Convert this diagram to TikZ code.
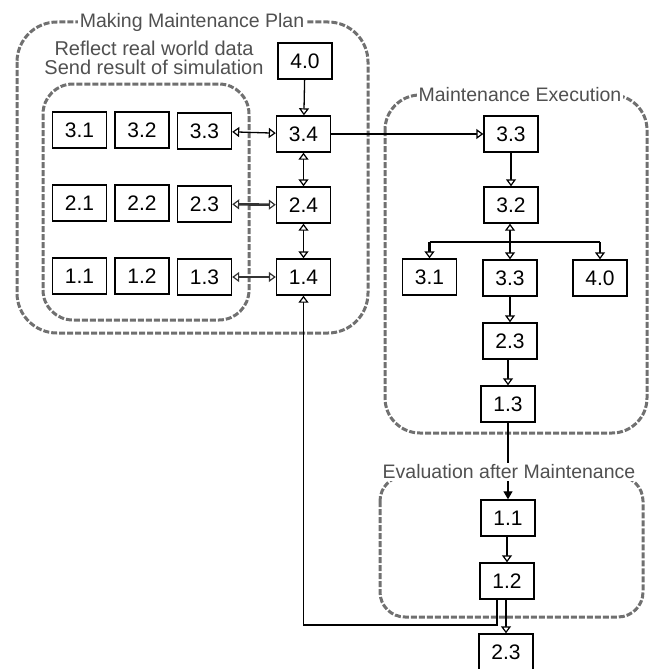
\documentclass[tikz,border=0pt]{standalone}
\usepackage{fontspec}
\setmainfont{Liberation Sans}
\usetikzlibrary{arrows.meta}
\definecolor{grp}{HTML}{707070}
\definecolor{grtxt}{HTML}{505050}
\tikzset{
  box/.style={draw, line width=1.4pt, minimum width=54pt, minimum height=36pt, inner sep=0pt, fill=white,
    font=\fontsize{21}{21}\selectfont},
  grpbox/.style={draw=grp, line width=3pt, dash pattern=on 6pt off 2pt},
  grplabel/.style={text=grtxt, fill=white, inner sep=1.5pt, font=\fontsize{19.5}{18}\selectfont, align=center},
  tip/.style={-{Triangle[open, length=7pt, width=10pt, fill=white, line width=1.2pt]}},
  both/.style={{Triangle[open, length=7pt, width=10pt, fill=white, line width=1.2pt]}-{Triangle[open, length=7pt, width=10pt, fill=white, line width=1.2pt]}},
  conn/.style={line width=1.3pt},
  heavy/.style={line width=2.6pt, draw=black!80},
}
\begin{document}
\begin{tikzpicture}[x=1pt, y=-1pt]
\useasboundingbox (0,0) rectangle (654,669);
% group frames
\draw[grpbox, rounded corners=40pt] (17,22) rectangle (368,333);
\draw[grpbox, rounded corners=30pt] (43,84) rectangle (249,320);
\draw[grpbox, rounded corners=35pt] (385,95) rectangle (647,433);
\draw[grpbox, rounded corners=25pt] (380,476) rectangle (643,617);

% left grid
\node[box] (a31) at (79.5,130) {3.1};
\node[box] (a32) at (142,130) {3.2};
\node[box] (a33) at (204.5,131) {3.3};
\node[box] (a21) at (79.5,203) {2.1};
\node[box] (a22) at (142,203) {2.2};
\node[box] (a23) at (204.5,204) {2.3};
\node[box] (a11) at (79.5,276) {1.1};
\node[box] (a12) at (142,276) {1.2};
\node[box] (a13) at (204.5,277) {1.3};
% plan column
\node[box] (p40) at (305,61) {4.0};
\node[box] (p34) at (303.5,134) {3.4};
\node[box] (p24) at (303.5,205) {2.4};
\node[box] (p14) at (303.5,277) {1.4};
% execution
\node[box] (e33) at (511,134) {3.3};
\node[box] (e32) at (511,205) {3.2};
\node[box] (e31) at (429.5,277) {3.1};
\node[box] (e33b) at (510,278) {3.3};
\node[box] (e40) at (600,278) {4.0};
\node[box] (e23) at (510,341) {2.3};
\node[box] (e13) at (508,404) {1.3};
% evaluation
\node[box] (v11) at (508,518) {1.1};
\node[box] (v12) at (507,581) {1.2};
\node[box] (v23) at (506,652) {2.3};

% connectors in plan
\draw[conn, tip] (p40) -- (p34);
\draw[conn, both] (a33) -- (p34);
\draw[heavy, both] (a23) -- (p24);
\draw[heavy, both] (a13) -- (p14);
\draw[conn, both] (p34) -- (p24);
\draw[conn, both] (p24) -- (p14);
\draw[conn, tip] (p34) -- (e33);
% execution
\draw[conn, tip] (e33) -- (e32);
\coordinate (j) at (510,242);
\draw[conn, both] (e32.south -| e33b) -- (e33b);
\draw[line width=2.2pt] (e31.north |- j) -- (e40.north |- j);
\draw[line width=2.2pt, tip] (e31.north |- j) -- (e31.north);
\draw[line width=2.2pt, tip] (e40.north |- j) -- (e40.north);
\draw[conn, tip] (e33b) -- (e23);
\draw[conn, tip] (e23.south -| e13) -- (e13);
% to evaluation
\draw[conn, -{Triangle[length=8pt, width=9pt]}] (e13) -- (v11);
\draw[conn, tip] (v11.south -| v12) -- (v12);
\coordinate (fb) at (497,625);
\draw[conn, tip] (v12.south -| fb) -- (fb) -| (p14.south);
\draw[conn, tip] (v12.south -| v23) -- (v23);

% labels
\node[grplabel] (t1) at (192,22) {Making Maintenance Plan};
\node[grplabel, fill=none, font=\fontsize{20}{19.5}\selectfont] (t2) at (154,58) {Reflect real world data\\Send result of simulation};
\node[grplabel] (t3) at (520,95) {Maintenance Execution};
\node[grplabel] (t4) at (509,472) {Evaluation after Maintenance};
\end{tikzpicture}
\end{document}
